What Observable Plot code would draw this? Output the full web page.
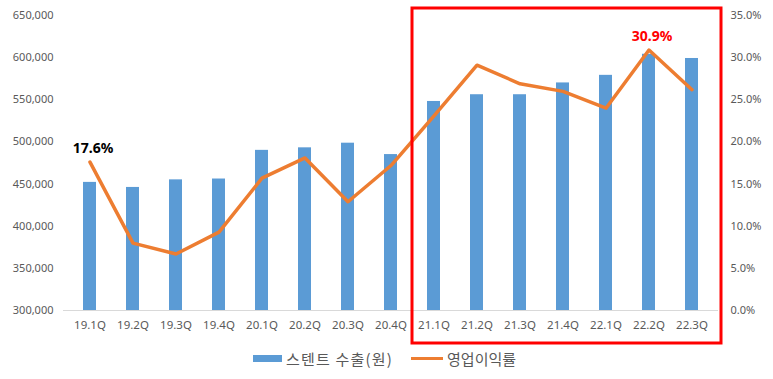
<!DOCTYPE html>
<html><head><meta charset="utf-8">
<script src="https://cdn.jsdelivr.net/npm/d3@7"></script>
<script src="https://cdn.jsdelivr.net/npm/@observablehq/plot@0.6"></script>
<style>
body{margin:0;background:#fff;font-family:"Noto Sans CJK KR","Noto Sans",sans-serif;}
#wrap{width:773px;}
#legend{height:26px;display:flex;justify-content:center;align-items:center;gap:18px;font-size:15px;color:#595959;margin-left:-4px}
.item{display:flex;align-items:center;gap:4px}
.sw{display:inline-block;width:29px;height:7px}
.ln{display:inline-block;width:32px;height:3px}
</style></head>
<body><div id="wrap"><div id="chart"></div>
<div id="legend"><span class="item"><span class="sw" style="background:#5b9bd5"></span><span style="letter-spacing:1.2px">스텐트 수출(원)</span></span><span class="item"><span class="ln" style="background:#ed7d31"></span>영업이익률</span></div></div>
<script>
const quarters = ["19.1Q","19.2Q","19.3Q","19.4Q","20.1Q","20.2Q","20.3Q","20.4Q","21.1Q","21.2Q","21.3Q","21.4Q","22.1Q","22.2Q","22.3Q"];
const exports_ = [452000,446000,455000,456000,490000,493000,498500,485000,548000,556000,556000,570000,579000,604000,599000];
const margins = [17.6,8.0,6.7,9.3,15.7,18.1,12.9,17.2,23.1,29.1,26.9,26.0,24.0,30.9,26.2];
const leftTicks = [300000,350000,400000,450000,500000,550000,600000,650000];
const rightTicks = [0,5,10,15,20,25,30,35];
const labeled = {"19.1Q": {txt:"17.6%", color:"#000"}, "22.2Q": {txt:"30.9%", color:"#ff0000"}};

const base = 300000, scaleK = 10000; // pct -> left axis units
const rows = quarters.map((q,i)=>({q, v: exports_[i], m: margins[i], my: base + margins[i]*scaleK}));
const labelRows = rows.filter(d=>labeled[d.q]).map(d=>({...d, txt: labeled[d.q].txt, color: labeled[d.q].color}));

const chart = Plot.plot({
  width: 773, height: 345,
  marginLeft: 63, marginRight: 55, marginTop: 15, marginBottom: 35,
  style: {fontFamily: "'Noto Sans','Noto Sans CJK KR',sans-serif", fontSize: "11px", color: "#595959", background: "#fff"},
  x: {domain: quarters, paddingInner: 0.69, paddingOuter: 0.345, label: null},
  y: {domain: [300000, 650000], label: null},
  marks: [
    Plot.axisX({tickSize: 0, tickPadding: 10, fontSize: 11.5}),
    Plot.axisY({ticks: leftTicks, tickSize: 0, tickPadding: 10, tickFormat: d3.format(","), label: null}),
    Plot.axisY({anchor: "right", ticks: rightTicks.map(p=>base+p*scaleK), tickSize: 0, tickPadding: 12,
      tickFormat: d => ((d-base)/scaleK).toFixed(1) + "%", label: null}),
    Plot.barY(rows, {x: "q", y1: base, y2: "v", fill: "#5b9bd5"}),
    Plot.ruleY([base], {stroke: "#d9d9d9", strokeWidth: 1}),
    Plot.line(rows, {x: "q", y: "my", stroke: "#ed7d31", strokeWidth: 3.5, strokeLinejoin: "round", strokeLinecap: "round"}),
    Plot.text(labelRows, {x: "q", y: "my", text: "txt", fill: "color", dy: -14, dx: 3, fontWeight: "bold", fontSize: 14})
  ]
});
document.getElementById("chart").appendChild(chart);

// red highlight box around 21.1Q .. 22.3Q
const sx = chart.scale("x"), sy = chart.scale("y");
const step = sx.step;
const x0 = sx.apply("21.1Q") + sx.bandwidth/2 - step/2;
const x1 = sx.apply("22.3Q") + sx.bandwidth/2 + step/2 + 8;
const y0 = sy.apply(650000) - 7;
const y1 = 343;
d3.select(chart).append("rect")
  .attr("x", x0).attr("y", y0).attr("width", x1-x0).attr("height", y1-y0)
  .attr("fill","none").attr("stroke","#ff0000").attr("stroke-width",3);
</script></body></html>
